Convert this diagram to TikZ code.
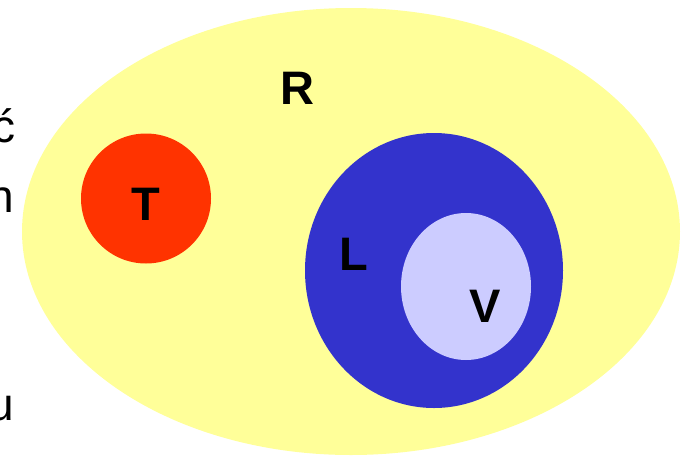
\documentclass[tikz,border=0pt]{standalone}
\usepackage{fontspec}
\setmainfont{Liberation Sans}
\definecolor{yel}{HTML}{FFFF99}
\definecolor{redc}{HTML}{FF3300}
\definecolor{bluec}{HTML}{3333CC}
\definecolor{lightc}{HTML}{CCCCFF}
\tikzset{
  lbl/.style={anchor=base,inner sep=0pt,font=\fontsize{47}{50}\selectfont\bfseries},
  side/.style={anchor=base east,inner sep=0pt,font=\fontsize{46}{50}\selectfont}
}
\begin{document}
\begin{tikzpicture}[x=1pt,y=-1pt]
\useasboundingbox (0,0) rectangle (689,456);
\clip (0,0) rectangle (689,456);
\fill[yel] (351,231.5) ellipse [x radius=329, y radius=223.5];
\fill[redc] (146,198.5) circle [radius=65];
\fill[bluec] (434,270.5) ellipse [x radius=129, y radius=137.5];
\fill[lightc] (466,286.5) ellipse [x radius=65, y radius=73.5];
\node[lbl] (R) at (297,104) {R};
\node[lbl] (T) at (146,220) {T};
\node[lbl] (L) at (354,270) {L};
\node[lbl] (V) at (485,322) {V};
\node[side] (c1) at (16,142) {ć};
\node[side] (n1) at (14,212) {n};
\node[side] (u1) at (14,420) {u};
\end{tikzpicture}
\end{document}
